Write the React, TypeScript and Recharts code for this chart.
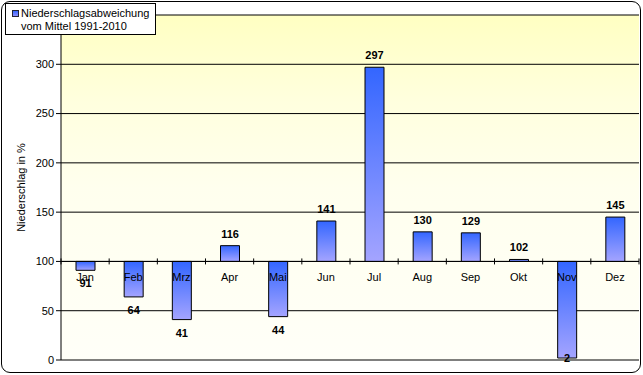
import React from 'react';
import { BarChart, Bar, XAxis, YAxis, CartesianGrid, ReferenceLine, LabelList } from 'recharts';

// Niederschlag in % vom Mittel 1991-2010
const months = ['Jan', 'Feb', 'Mrz', 'Apr', 'Mai', 'Jun', 'Jul', 'Aug', 'Sep', 'Okt', 'Nov', 'Dez'];
const values = [91, 64, 41, 116, 44, 141, 297, 130, 129, 102, 2, 145];
const yTicks = [0, 50, 100, 150, 200, 250, 300];
const baseline = 100;

const W = 643;
const H = 375;
const X_AXIS_H = 1;
const M = { top: 15, right: 4, bottom: 14, left: 0 };
const Y_AXIS_W = 61;
const Y_MAX = 350;
const plotW = W - M.left - M.right - Y_AXIS_W;
const plotH = H - M.top - M.bottom - X_AXIS_H;
const band = plotW / months.length;
const axisY = M.top + plotH * (1 - baseline / Y_MAX);
const plotBottom = M.top + plotH;

const data = months.map((m, i) => ({
    month: m,
    value: values[i],
    range: [Math.min(baseline, values[i]), Math.max(baseline, values[i])],
}));

const font = 'Arial, "Liberation Sans", sans-serif';

const MonthTick = (props: any) => {
    const { x, index, payload } = props;
    const left = x - band / 2;
    return (
        <g>
            <line x1={left} x2={left} y1={axisY - 3} y2={axisY + 3} stroke="#000" />
            {index === months.length - 1 && (
                <line x1={left + band} x2={left + band} y1={axisY - 3} y2={axisY + 3} stroke="#000" />
            )}
            <text x={x} y={axisY + 20} textAnchor="middle" fontSize={11} fontFamily={font} fill="#000">
                {payload.value}
            </text>
        </g>
    );
};

const ValueLabel = (props: any) => {
    const { x, y, width, height, index } = props;
    const v = values[index];
    const cx = x + width / 2;
    const ty = v >= baseline ? y - 8 : Math.min(y + height + 17, plotBottom + 2);
    return (
        <text x={cx} y={ty} textAnchor="middle" fontSize={11} fontWeight="bold" fontFamily={font} fill="#000">
            {v}
        </text>
    );
};

export default function App() {
    return (
        <div style={{ position: 'absolute', left: 0, top: 0, width: W, height: H, background: '#fff' }}>
            <BarChart width={W} height={H} data={data} margin={M} barSize={19}>
                <defs>
                    <linearGradient id="plotBg" x1="0" y1="0" x2="0" y2="1">
                        <stop offset="0%" stopColor="#FFFFC2" />
                        <stop offset="25%" stopColor="#FFFFDE" />
                        <stop offset="50%" stopColor="#FFFFEE" />
                        <stop offset="100%" stopColor="#FFFFF8" />
                    </linearGradient>
                    <linearGradient id="barFill" x1="0" y1="0" x2="0" y2="1">
                        <stop offset="0%" stopColor="#3366FF" />
                        <stop offset="100%" stopColor="#A4A4FF" />
                    </linearGradient>
                </defs>
                <CartesianGrid vertical={false} stroke="#000" fill="url(#plotBg)" fillOpacity={1} />
                <YAxis
                    width={Y_AXIS_W}
                    domain={[0, Y_MAX]}
                    ticks={yTicks}
                    interval={0}
                    tickSize={5}
                    axisLine={{ stroke: '#000' }}
                    tickLine={{ stroke: '#000' }}
                    tick={{ fill: '#000', fontSize: 11, fontFamily: font }}
                    label={{ value: 'Niederschlag in %', angle: -90, position: 'center', dx: -9, fontSize: 11, fontFamily: font, fill: '#000' }}
                />
                <XAxis dataKey="month" height={X_AXIS_H} axisLine={false} tickLine={false} tick={<MonthTick />} interval={0} />
                <ReferenceLine y={baseline} stroke="#000" />
                <Bar dataKey="range" fill="url(#barFill)" stroke="#000" strokeWidth={1} isAnimationActive={false}>
                    <LabelList dataKey="value" content={<ValueLabel />} />
                </Bar>
            </BarChart>
            <div
                style={{
                    position: 'absolute', left: 1, top: 1, width: 640, height: 372, boxSizing: 'border-box',
                    border: '1px solid #000', borderRadius: 9, pointerEvents: 'none',
                }}
            />
            <div
                style={{
                    position: 'absolute', left: 5, top: 3, width: 151, height: 32, boxSizing: 'border-box',
                    border: '1px solid #000', background: '#fff', fontFamily: font, fontSize: 11, lineHeight: '13px',
                    color: '#000', paddingLeft: 15, paddingTop: 3,
                }}
            >
                <div
                    style={{
                        position: 'absolute', left: 6, top: 6, width: 7, height: 7, boxSizing: 'border-box',
                        border: '1px solid #223', background: 'linear-gradient(#3366FF, #8C8CFF)',
                    }}
                />
                <div>Niederschlagsabweichung</div>
                <div>vom Mittel 1991-2010</div>
            </div>
        </div>
    );
}
